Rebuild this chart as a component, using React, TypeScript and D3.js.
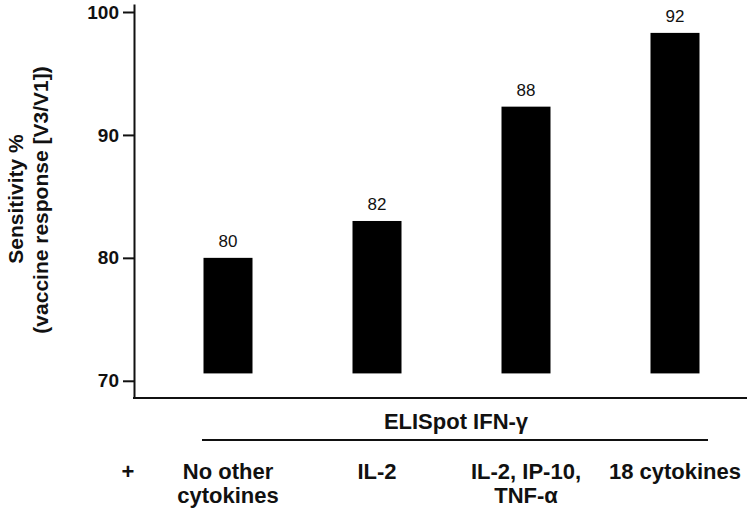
import React, { useEffect, useRef } from "react";
import * as d3 from "d3";

const categories = ["No other cytokines", "IL-2", "IL-2, IP-10, TNF-α", "18 cytokines"];
const categoryLines = [["No other", "cytokines"], ["IL-2"], ["IL-2, IP-10,", "TNF-α"], ["18 cytokines"]];
const barValues = [80.0, 83.0, 92.3, 98.3];
const barLabels = ["80", "82", "88", "92"];
const barBase = 70.6;
const yTicks = [70, 80, 90, 100];
const yTitle = ["Sensitivity %", "(vaccine response [V3/V1])"];
const groupTitle = "ELISpot IFN-γ";

const W = 751;
const H = 513;
const FONT = "'Liberation Sans', Arial, sans-serif";

export default function App() {
  const axisRef = useRef<SVGGElement>(null);
  const y = d3.scaleLinear().domain([68.6, 100.65]).range([398, 4]);
  const x = d3.scalePoint<string>().domain(categories).range([228, 675]);
  const barW = 49;

  useEffect(() => {
    if (!axisRef.current) return;
    const g = d3.select(axisRef.current);
    g.selectAll("*").remove();
    g.call(
      d3.axisLeft(y).tickValues(yTicks).tickSize(11).tickSizeOuter(0).tickPadding(4).tickFormat(d3.format("d"))
    );
    g.selectAll("path.domain").attr("stroke", "#111").attr("stroke-width", 2);
    g.selectAll(".tick line").attr("stroke", "#111").attr("stroke-width", 2);
    g.selectAll(".tick text")
      .attr("fill", "#111")
      .attr("font-size", 19)
      .attr("font-weight", "bold")
      .attr("font-family", FONT);
  }, []);

  return (
    <svg width={W} height={H} style={{ position: "absolute", left: 0, top: 0, background: "#fff" }}>
      <rect x={0} y={0} width={W} height={H} fill="#fff" />
      {categories.map((c, i) => (
        <g key={c}>
          <rect
            x={(x(c) as number) - barW / 2}
            y={y(barValues[i])}
            width={barW}
            height={y(barBase) - y(barValues[i])}
            fill="#000"
          />
          <text
            x={x(c) as number}
            y={y(barValues[i]) - 11}
            textAnchor="middle"
            fontSize={17}
            fontFamily={FONT}
            fill="#111"
          >
            {barLabels[i]}
          </text>
        </g>
      ))}
      <g ref={axisRef} transform="translate(134,0)" />
      <line x1={133} x2={747} y1={398} y2={398} stroke="#111" strokeWidth={2} />
      <g transform="rotate(-90)" fontFamily={FONT} fontWeight="bold" fontSize={21} fill="#111" textAnchor="middle">
        <text x={-199} y={23}>{yTitle[0]}</text>
        <text x={-200} y={48}>{yTitle[1]}</text>
      </g>
      <text x={456} y={429} textAnchor="middle" fontFamily={FONT} fontWeight="bold" fontSize={22} fill="#111">
        {groupTitle}
      </text>
      <line x1={202} x2={708} y1={440} y2={440} stroke="#111" strokeWidth={2} />
      <text x={128} y={479} textAnchor="middle" fontFamily={FONT} fontWeight="bold" fontSize={22} fill="#111">
        +
      </text>
      {categories.map((c, i) => (
        <text key={c} textAnchor="middle" fontFamily={FONT} fontWeight="bold" fontSize={22} fill="#111">
          {categoryLines[i].map((ln, j) => (
            <tspan key={j} x={x(c) as number} y={479 + j * 24}>
              {ln}
            </tspan>
          ))}
        </text>
      ))}
    </svg>
  );
}
